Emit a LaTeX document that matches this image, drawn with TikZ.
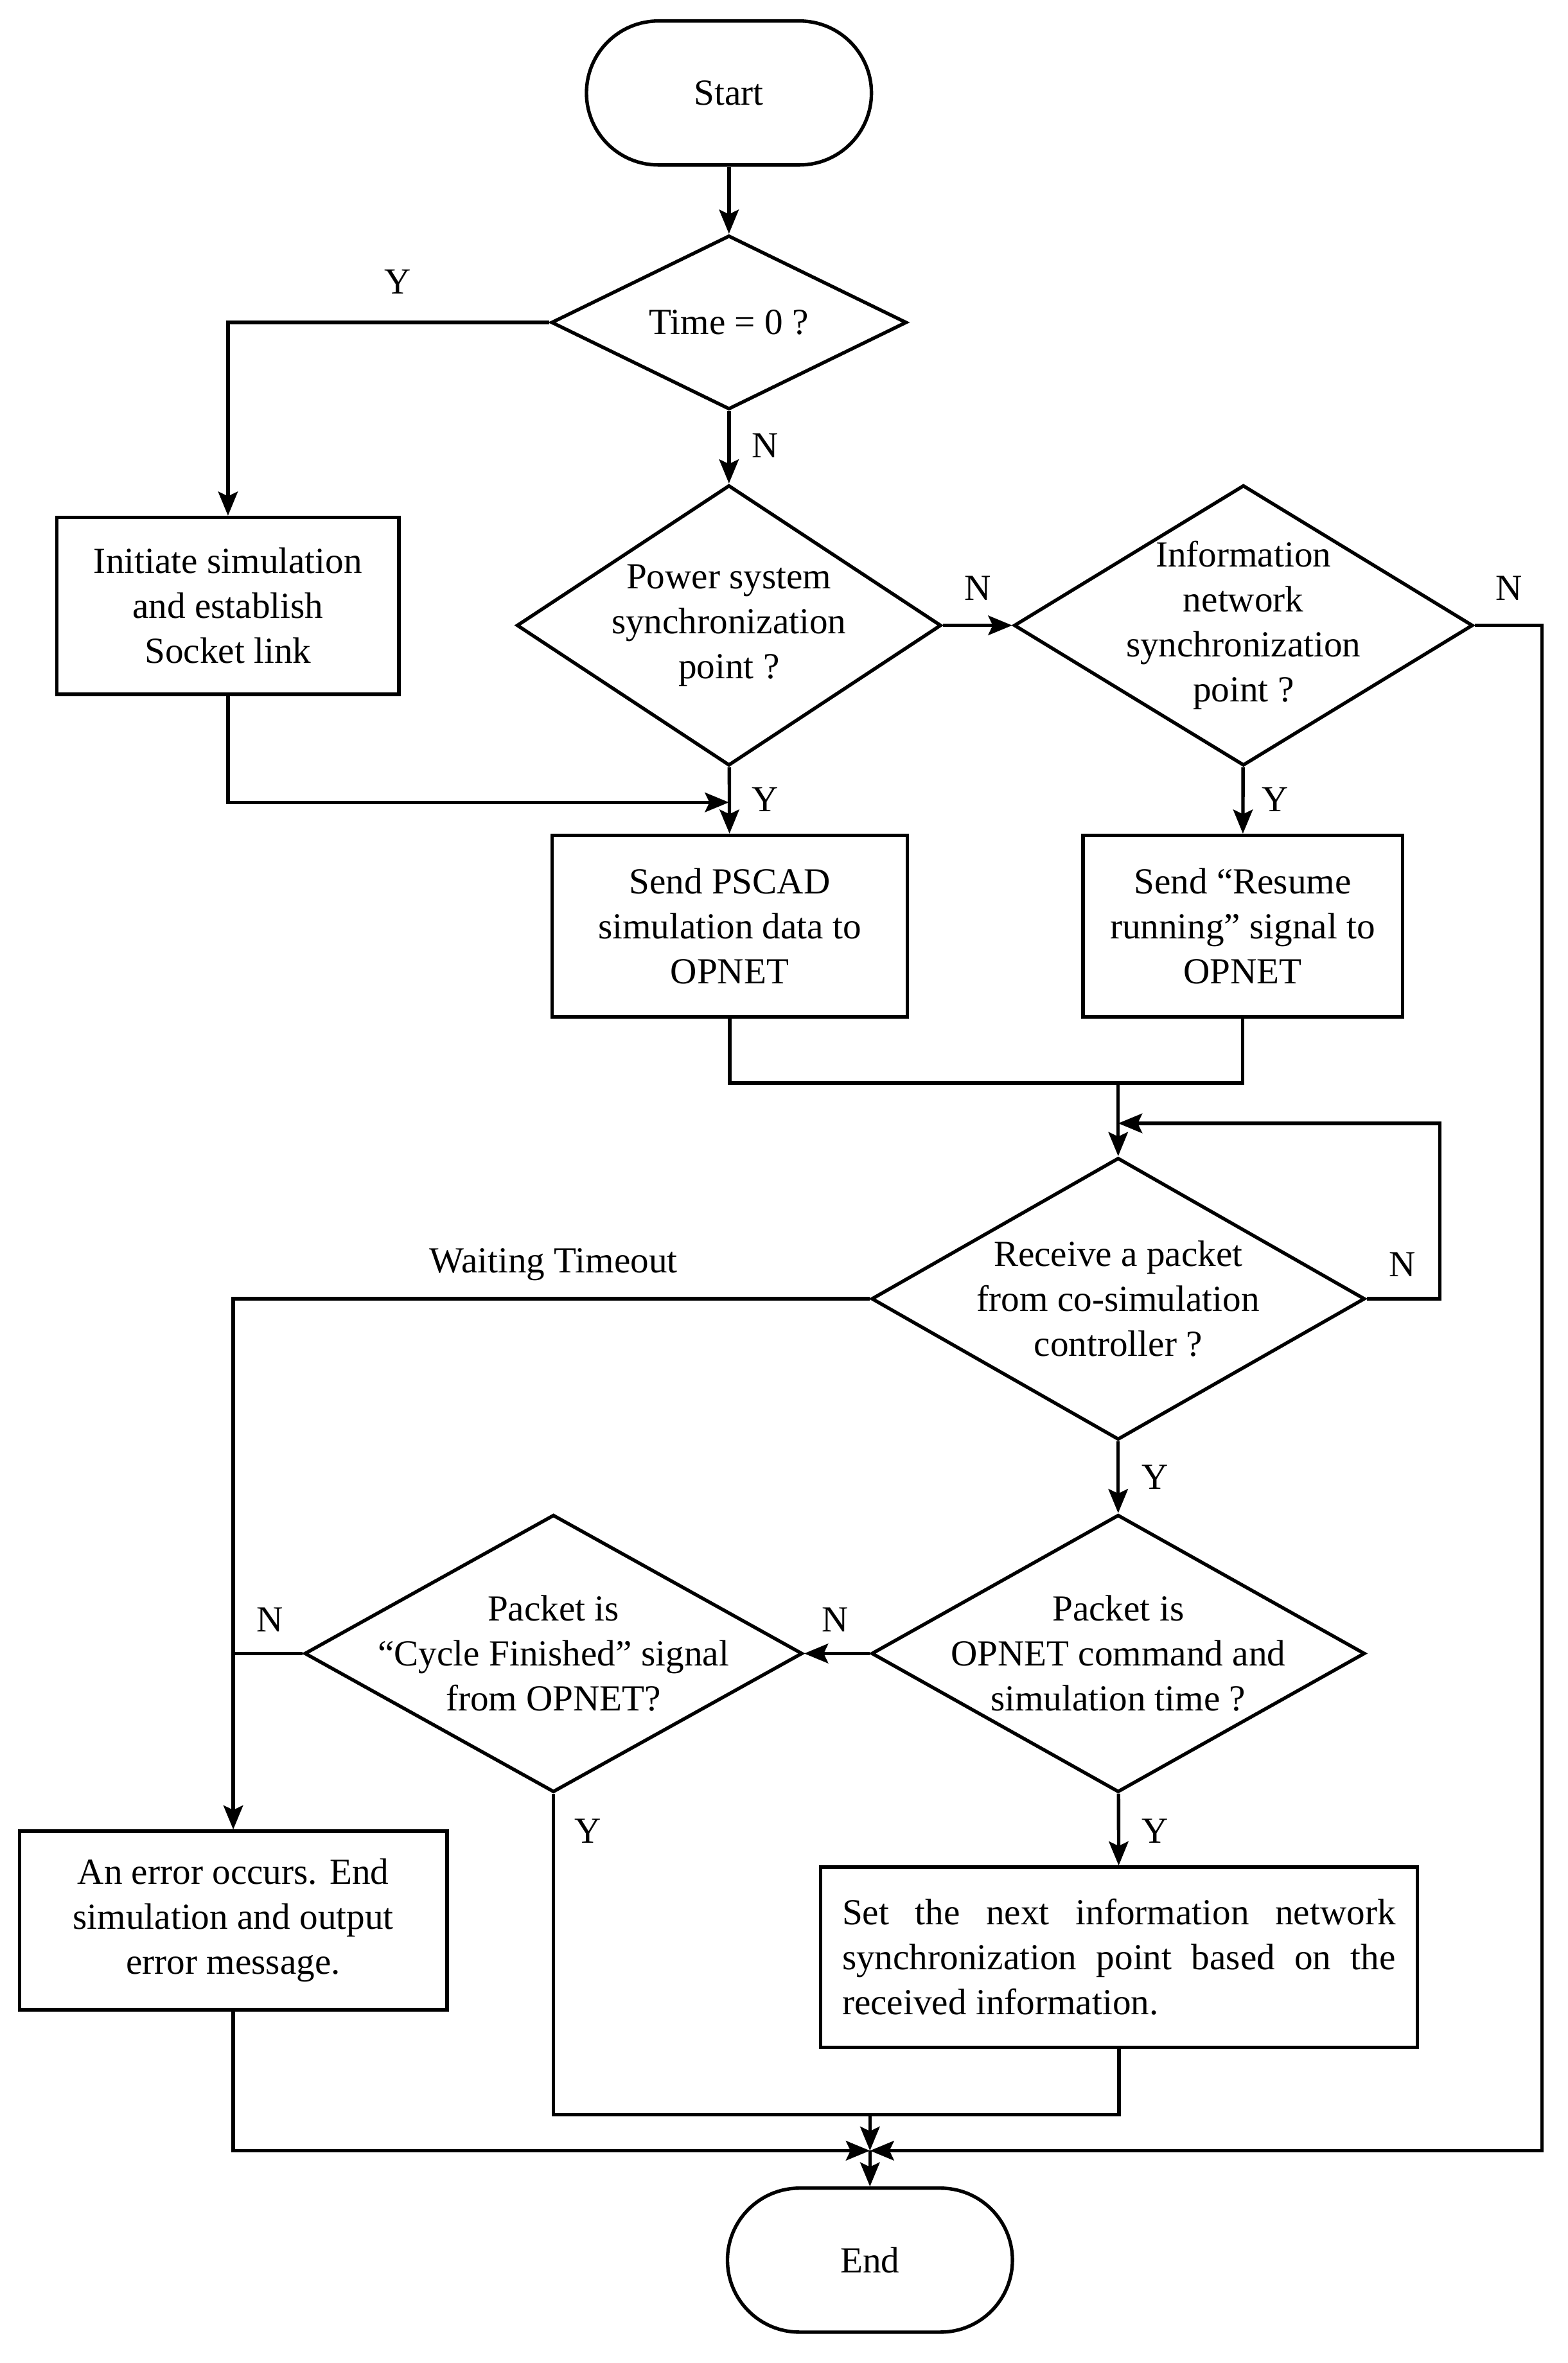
\documentclass[tikz,border=0pt]{standalone}
\usepackage{fontspec}
\setmainfont{Liberation Serif}
\usetikzlibrary{shapes.geometric,arrows.meta,calc}
\begin{document}
\begin{tikzpicture}[x=1pt,y=-1pt,
  every node/.style={font=\fontsize{24.5}{30}\selectfont},
  line/.style={line width=2.3pt},
  arr/.style={line width=2.3pt,-{Stealth[length=16pt,width=13pt,inset=3pt]}},
  term/.style={draw,line width=2.3pt,rectangle,rounded corners=48pt,minimum width=190pt,minimum height=96pt,inner sep=0pt},
  proc/.style={draw,line width=2.3pt,rectangle,inner sep=0pt,align=center},
  dec/.style={draw,line width=2.3pt,diamond,inner sep=0pt},
  txt/.style={align=center,inner sep=0pt},
  lab/.style={inner sep=0pt}]
\useasboundingbox (0,0) rectangle (1045,1575.6);

% terminals
\node[term] (start) at (486,62) {Start};
\node[term] (end) at (580,1507) {End};

% decisions
\node[dec,minimum width=237pt,minimum height=116pt] (time) at (486,215) {};
\node[txt] (timet) at (time) {Time = 0 ?};
\node[dec,minimum width=283pt,minimum height=187pt] (power) at (486,417) {};
\node[txt] (powert) at (power) {Power system\\synchronization\\point ?};
\node[dec,minimum width=306pt,minimum height=187pt] (info) at (829,417) {};
\node[txt] (infot) at (info) {Information\\network\\synchronization\\point ?};
\node[dec,minimum width=329pt,minimum height=188pt] (recv) at (745.5,866) {};
\node[txt] (recvt) at (recv) {Receive a packet\\from co-simulation\\controller ?};
\node[dec,minimum width=329pt,minimum height=185pt] (opnet) at (745.5,1102.5) {};
\node[txt] (opnett) at (opnet) {Packet is\\OPNET command and\\simulation time ?};
\node[dec,minimum width=332pt,minimum height=185pt] (cycle) at (369,1102.5) {};
\node[txt] (cyclet) at (cycle) {Packet is\\“Cycle Finished” signal\\from OPNET?};

% processes
\node[proc,minimum width=228pt,minimum height=118pt] (init) at (152,404) {Initiate simulation\\and establish\\Socket link};
\node[proc,minimum width=237pt,minimum height=121pt] (pscad) at (486.5,617.5) {Send PSCAD\\simulation data to\\OPNET};
\node[proc,minimum width=213pt,minimum height=121pt] (resume) at (828.5,617.5) {Send “Resume\\running” signal to\\OPNET};
\node[proc,minimum width=285pt,minimum height=119pt] (err) at (155.5,1280.5) {An error occurs. End\\simulation and output\\error message.};
\node[proc,minimum width=398pt,minimum height=120pt,text width=369pt,align=justify] (set) at (746,1305) {Set the next information network\linebreak synchronization point based on the\linebreak received information.};

% junction coordinates
\coordinate (j1) at (486,535);
\coordinate (j2) at (745.5,722);
\coordinate (j3) at (745.5,749);
\coordinate (j4) at (580,1410);
\coordinate (jE) at (580,1434);
\coordinate (rloop) at (960,866);
\coordinate (rright) at (1028,417);

% connectors
\draw[arr] (start) -- (time);
\draw[arr] (time.west) -| (init.north);
\draw[arr] (time) -- (power);
\draw[arr] (init.south) |- (j1);
\draw[arr] (power) -- (pscad);
\draw[arr] (power.east) -- (info.west);
\draw[arr] (info) -- (resume);
\draw[line] (pscad.south) |- (j2) -| (resume.south);
\draw[arr] (j2) -- (recv.north);
\draw[arr] (recv.east) -- (rloop) |- (j3);
\draw[arr] (recv.west) -| (err.north);
\draw[arr] (recv) -- (opnet);
\draw[arr] (opnet.west) -- (cycle.east);
\draw[line] (cycle.west) -- (cycle.west -| err.north);
\draw[arr] (opnet) -- (set);
\draw[line] (cycle.south) |- (j4) -| (set.south);
\draw[arr] (j4) -- (jE);
\draw[arr] (err.south) |- (jE);
\draw[arr] (info.east) -- (rright) |- (jE);
\draw[arr] (jE) -- (end);

% labels
\node[lab] (l1) at (265,188) {Y};
\node[lab] (l2) at (510,297) {N};
\node[lab] (l3) at (652,392) {N};
\node[lab] (l4) at (1006,392) {N};
\node[lab] (l5) at (510,533) {Y};
\node[lab] (l6) at (850,533) {Y};
\node[lab] (l7) at (369,843) {Waiting Timeout};
\node[lab] (l8) at (935,843) {N};
\node[lab] (l9) at (770,985) {Y};
\node[lab] (l10) at (557,1080) {N};
\node[lab] (l11) at (180,1080) {N};
\node[lab] (l12) at (392,1221) {Y};
\node[lab] (l13) at (770,1221) {Y};
\end{tikzpicture}
\end{document}
